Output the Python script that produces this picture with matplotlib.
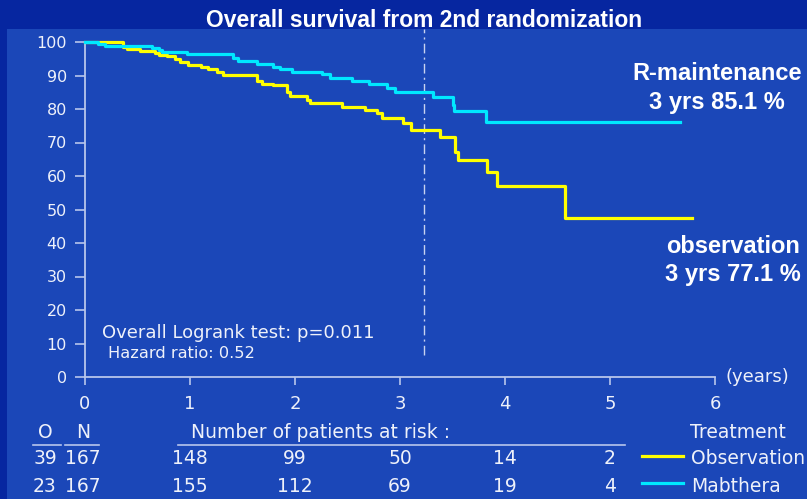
import matplotlib
matplotlib.use("Agg")
import matplotlib.pyplot as plt
import matplotlib.transforms as mtransforms
from matplotlib.patches import Rectangle
from matplotlib.lines import Line2D

# Kaplan-Meier steps (years, % surviving)
obs_t = [0, 0.36, 0.40, 0.52, 0.67, 0.70, 0.78, 0.86, 0.90, 0.98, 1.10, 1.17,
         1.26, 1.31, 1.64, 1.69, 1.79, 1.92, 1.95, 2.11, 2.14, 2.45, 2.67, 2.78,
         2.83, 3.03, 3.10, 3.38, 3.52, 3.55, 3.83, 3.92, 4.57, 5.78]
obs_s = [100, 98.6, 97.9, 97.4, 96.7, 96.2, 95.7, 95.0, 94.0, 93.2, 92.5, 91.9,
         91.0, 90.1, 88.5, 87.6, 87.2, 85.2, 83.9, 82.7, 81.9, 80.7, 79.7, 78.7,
         77.2, 75.7, 73.8, 71.7, 67.3, 64.8, 61.3, 57.0, 47.6, 47.6]

mab_t = [0, 0.12, 0.19, 0.64, 0.70, 0.73, 0.97, 1.41, 1.46, 1.64, 1.79, 1.86,
         1.97, 2.26, 2.33, 2.54, 2.70, 2.88, 2.95, 3.31, 3.50, 3.51, 3.82, 5.67]
mab_s = [100, 99.4, 98.7, 98.2, 97.5, 97.0, 96.5, 95.2, 94.3, 93.3, 92.6, 91.8,
         91.0, 90.4, 89.4, 88.4, 87.6, 86.4, 85.0, 83.5, 81.2, 79.4, 76.0, 76.0]

x_ticks = [0, 1, 2, 3, 4, 5, 6]
y_ticks = [0, 10, 20, 30, 40, 50, 60, 70, 80, 90, 100]
risk_years = [1, 2, 3, 4, 5]
obs_risk = [148, 99, 50, 14, 2]
mab_risk = [155, 112, 69, 19, 4]
obs_on = ["39", "167"]
mab_on = ["23", "167"]
landmark = 3.23

W, H = 807, 499
OUTER = "#0626a0"
PANEL = "#1b47b8"
TXT = "#eef1fa"
AXC = "#b8c6ec"
YEL = "#ffff00"
CYA = "#00e8ff"


def fx(px):
    return px / W


def fy(py):
    return 1 - py / H


plt.rcParams["font.family"] = ["DejaVu Sans"]

fig = plt.figure(figsize=(W / 100, H / 100), dpi=100, facecolor=OUTER)
fig.patches.append(Rectangle((fx(7), 0), 1, fy(29), transform=fig.transFigure,
                             facecolor=PANEL, edgecolor="none", zorder=-5))

fig.text(fx(424), fy(27), "Overall survival from 2nd randomization", ha="center",
         va="baseline", color="white", fontsize=16.5, fontweight="bold",
         family=["Liberation Sans Narrow", "Liberation Sans"])

ax = fig.add_axes([fx(85), fy(377), fx(715) - fx(85), fy(42) - fy(377)])
ax.set_facecolor("none")
ax.set_zorder(2)
ax.set_xlim(0, 6)
ax.set_ylim(0, 100)

ax.step(obs_t, obs_s, where="post", color=YEL, lw=2.3, clip_on=False, zorder=3)
ax.step(mab_t, mab_s, where="post", color=CYA, lw=2.3, clip_on=False, zorder=4)

ax.axvline(landmark, ymin=0.066, ymax=1.04, color="#c8d2f0", lw=1,
           linestyle=(0, (7, 3, 1.5, 3)), clip_on=False)

for s in ["top", "right"]:
    ax.spines[s].set_visible(False)
for s in ["left", "bottom"]:
    ax.spines[s].set_color(AXC)
    ax.spines[s].set_linewidth(1.3)

ax.set_xticks(x_ticks)
ax.set_yticks(y_ticks)
ax.tick_params(axis="y", direction="out", length=7, width=1.2, colors=AXC,
               labelcolor=TXT, labelsize=11.5, pad=6)
ax.tick_params(axis="x", direction="out", length=6, width=1.2, colors=AXC,
               labelcolor=TXT, labelsize=13, pad=7)

ax.text(6.1, 0, "(years)", ha="left", va="center", color=TXT, fontsize=13)

ax.text(0.16, 13, "Overall Logrank test: p=0.011", ha="left", va="center",
        color=TXT, fontsize=13)
ax.text(0.22, 7, "Hazard ratio: 0.52", ha="left", va="center", color=TXT,
        fontsize=11.7)

bold = dict(color="white", fontsize=17, fontweight="bold", ha="center",
            va="center", family=["Liberation Sans", "DejaVu Sans"])
fig.text(fx(717), fy(74), "R-maintenance", **bold)
fig.text(fx(717), fy(103), "3 yrs 85.1 %", **bold)
fig.text(fx(733), fy(246), "observation", **bold)
fig.text(fx(733), fy(274), "3 yrs 77.1 %", **bold)

# number at risk table
blend = mtransforms.blended_transform_factory(ax.transData, fig.transFigure)
tbl = dict(color=TXT, fontsize=13.5, va="center")
fig.text(fx(45), fy(432), "O", ha="center", **tbl)
fig.text(fx(83), fy(432), "N", ha="center", **tbl)
fig.text(fx(191), fy(432), "Number of patients at risk :", ha="left", **tbl)
fig.text(fx(786), fy(432), "Treatment", ha="right", **tbl)
for x0, x1 in [(33, 61), (65, 99), (178, 625)]:
    fig.add_artist(Line2D([fx(x0), fx(x1)], [fy(445), fy(445)], color=AXC, lw=1.2))

for row_y, on, risk, col, name in [(459, obs_on, obs_risk, YEL, "Observation"),
                                    (486, mab_on, mab_risk, CYA, "Mabthera")]:
    fig.text(fx(45), fy(row_y), on[0], ha="center", **tbl)
    fig.text(fx(83), fy(row_y), on[1], ha="center", **tbl)
    for yr, n in zip(risk_years, risk):
        fig.text(yr, fy(row_y), str(n), ha="center", transform=blend, **tbl)
    fig.add_artist(Line2D([fx(642), fx(683)], [fy(row_y - 3), fy(row_y - 3)],
                          color=col, lw=2.3))
    fig.text(fx(691), fy(row_y), name, ha="left", **tbl)

fig.savefig("out.png", dpi=100, facecolor=OUTER)
